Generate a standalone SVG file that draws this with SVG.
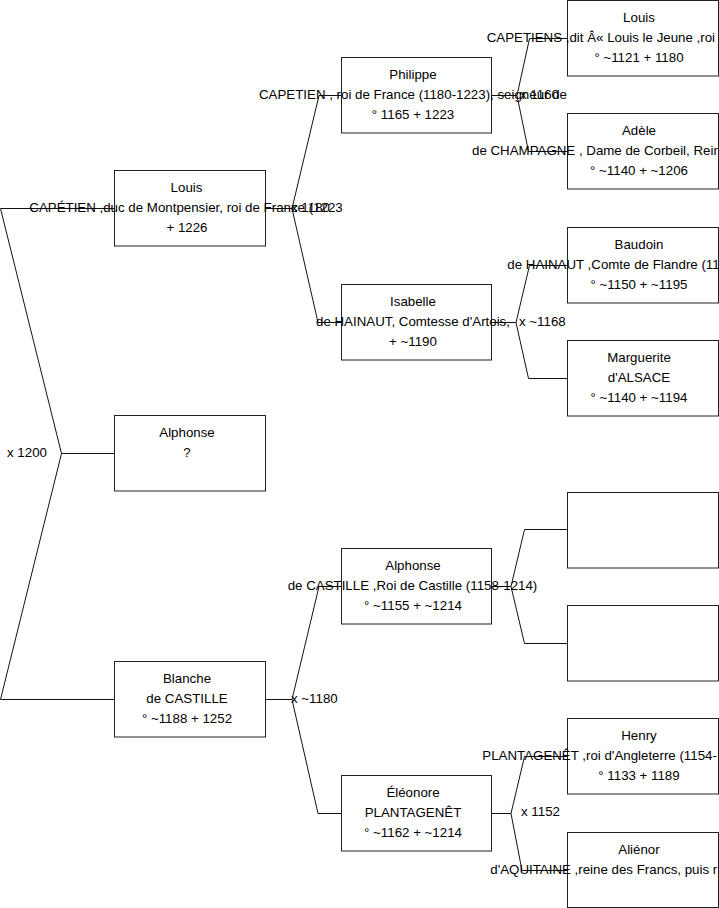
<svg xmlns="http://www.w3.org/2000/svg" width="719" height="908" viewBox="0 0 719 908">
<style>
.box{fill:#fff;stroke:#222;stroke-width:1}
.ln{fill:none;stroke:#111;stroke-width:1}
text{font-family:"Liberation Sans",Arial,sans-serif;font-size:13.3px;fill:#000}
.c{text-anchor:middle}
</style>
<rect x="0" y="0" width="719" height="908" fill="#fff"/>
<g id="connectors">
<polyline class="ln" points="114,208.5 0.5,208.5 61.5,453.5 0.5,699.5 114,699.5"/>
<line class="ln" x1="61.5" y1="453.5" x2="114" y2="453.5"/>
<polyline class="ln" points="265,208.5 292,208.5 319,95.5 341,95.5"/>
<polyline class="ln" points="292,208.5 318,322.5 341,322.5"/>
<polyline class="ln" points="265,699.5 292,699.5 319,586.5 341,586.5"/>
<polyline class="ln" points="292,699.5 318,813.5 341,813.5"/>
<polyline class="ln" points="491,95.5 517,95.5 529.5,38.5 567,38.5"/>
<polyline class="ln" points="517,95.5 528.5,151.5 567,151.5"/>
<polyline class="ln" points="491,322.5 516,322.5 529.5,265.5 567,265.5"/>
<polyline class="ln" points="516,322.5 528.5,378.5 567,378.5"/>
<polyline class="ln" points="491,586.5 511,586.5 524.5,529.5 567,529.5"/>
<polyline class="ln" points="511,586.5 524.5,643.5 567,643.5"/>
<polyline class="ln" points="491,813.5 511,813.5 524.5,756.5 567,756.5"/>
<polyline class="ln" points="511,813.5 522,870.5 567,870.5"/>
</g>
<g id="labels">
<text x="7" y="457">x 1200</text>
<text x="291" y="212">x 1180</text>
<text x="291" y="703">x ~1180</text>
<text x="520" y="99">x 1160</text>
<text x="519" y="326">x ~1168</text>
<text x="521" y="816">x 1152</text>
</g>
<g id="n-louis8">
<rect class="box" x="114.5" y="170.5" width="151" height="75.5"/>
<text class="c" x="186.5" y="191.5">Louis</text>
<text class="c" x="186" y="211.5">CAPÉTIEN ,duc de Montpensier, roi de France (1223</text>
<text class="c" x="187" y="231.5">+ 1226</text>
</g>
<g id="n-alphonse">
<rect class="box" x="114.5" y="415.5" width="151" height="75.5"/>
<text class="c" x="187" y="436.5">Alphonse</text>
<text class="c" x="187" y="456.5">?</text>
</g>
<g id="n-blanche">
<rect class="box" x="114.5" y="661.5" width="151" height="75.5"/>
<text class="c" x="187" y="682.5">Blanche</text>
<text class="c" x="187" y="702.5">de CASTILLE</text>
<text class="c" x="187" y="722.5">° ~1188 + 1252</text>
</g>
<g id="n-philippe">
<rect class="box" x="341.5" y="57.5" width="150" height="75.5"/>
<text class="c" x="413" y="78.5">Philippe</text>
<text class="c" x="413" y="98.5">CAPETIEN , roi de France (1180-1223), seigneur de</text>
<text class="c" x="413" y="118.5">° 1165 + 1223</text>
</g>
<g id="n-isabelle">
<rect class="box" x="341.5" y="284.5" width="150" height="75.5"/>
<text class="c" x="413" y="305.5">Isabelle</text>
<text class="c" x="413" y="325.5">de HAINAUT, Comtesse d'Artois,</text>
<text class="c" x="413" y="345.5">+ ~1190</text>
</g>
<g id="n-alphonse8">
<rect class="box" x="341.5" y="548.5" width="150" height="75.5"/>
<text class="c" x="413" y="569.5">Alphonse</text>
<text class="c" x="412.5" y="589.5">de CASTILLE ,Roi de Castille (1158-1214)</text>
<text class="c" x="413" y="609.5">° ~1155 + ~1214</text>
</g>
<g id="n-eleonore">
<rect class="box" x="341.5" y="775.5" width="150" height="75.5"/>
<text class="c" x="413" y="796.5">Éléonore</text>
<text class="c" x="413" y="816.5">PLANTAGENÊT</text>
<text class="c" x="413" y="836.5">° ~1162 + ~1214</text>
</g>
<g id="n-louis7">
<rect class="box" x="567.5" y="0.5" width="151" height="75.5"/>
<text class="c" x="639" y="21.5">Louis</text>
<text x="486.7" y="41.5">CAPETIENS ,dit Â« Louis le Jeune ,roi</text>
<text class="c" x="639" y="61.5">° ~1121 + 1180</text>
</g>
<g id="n-adele">
<rect class="box" x="567.5" y="113.5" width="151" height="75.5"/>
<text class="c" x="639" y="134.5">Adèle</text>
<text x="472" y="154.5">de CHAMPAGNE , Dame de Corbeil, Rein</text>
<text class="c" x="639" y="174.5">° ~1140 + ~1206</text>
</g>
<g id="n-baudoin">
<rect class="box" x="567.5" y="227.5" width="151" height="75.5"/>
<text class="c" x="639" y="248.5">Baudoin</text>
<text x="507.3" y="268.5">de HAINAUT ,Comte de Flandre (11</text>
<text class="c" x="639" y="288.5">° ~1150 + ~1195</text>
</g>
<g id="n-marguerite">
<rect class="box" x="567.5" y="340.5" width="151" height="75.5"/>
<text class="c" x="639" y="361.5">Marguerite</text>
<text class="c" x="639" y="381.5">d'ALSACE</text>
<text class="c" x="639" y="401.5">° ~1140 + ~1194</text>
</g>
<g id="n-empty1">
<rect class="box" x="567.5" y="492.5" width="151" height="75.5"/>
</g>
<g id="n-empty2">
<rect class="box" x="567.5" y="605.5" width="151" height="75.5"/>
</g>
<g id="n-henry">
<rect class="box" x="567.5" y="718.5" width="151" height="75.5"/>
<text class="c" x="639" y="739.5">Henry</text>
<text x="482.3" y="759.5">PLANTAGENÊT ,roi d'Angleterre (1154-</text>
<text class="c" x="639" y="779.5">° 1133 + 1189</text>
</g>
<g id="n-alienor">
<rect class="box" x="567.5" y="832.5" width="151" height="75"/>
<text class="c" x="639" y="853.5">Aliénor</text>
<text x="490.3" y="873.5">d'AQUITAINE ,reine des Francs, puis r</text>
</g>
</svg>
